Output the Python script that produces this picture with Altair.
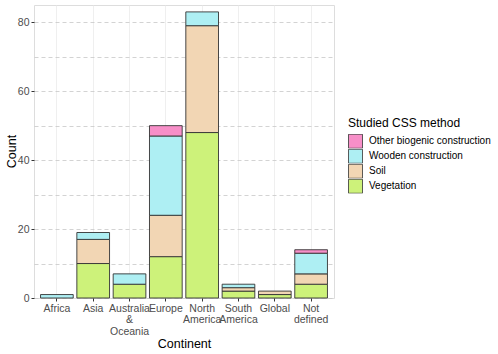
import altair as alt
import pandas as pd

continents = ["Africa", "Asia", "Australia\n&\nOceania", "Europe", "North\nAmerica",
              "South\nAmerica", "Global", "Not\ndefined"]
methods = ["Other biogenic construction", "Wooden construction", "Soil", "Vegetation"]
colors = ["#F78FC8", "#AEEFF3", "#F2D6B4", "#CDF27A"]

vegetation = [0, 10, 4, 12, 48, 2, 1, 4]
soil = [0, 7, 0, 12, 31, 1, 1, 3]
wooden = [1, 2, 3, 23, 4, 1, 0, 6]
other = [0, 0, 0, 3, 0, 0, 0, 1]

series = {"Vegetation": vegetation, "Soil": soil, "Wooden construction": wooden,
          "Other biogenic construction": other}
stack_rank = {"Vegetation": 0, "Soil": 1, "Wooden construction": 2, "Other biogenic construction": 3}

rows = []
for m, vals in series.items():
    for c, v in zip(continents, vals):
        if v > 0:
            rows.append({"Continent": c, "Method": m, "Count": v, "rank": stack_rank[m]})
df = pd.DataFrame(rows)

font = "Liberation Sans"

chart = alt.Chart(df).mark_bar(stroke="#333333", strokeWidth=0.9).encode(
    x=alt.X("Continent:N", sort=continents,
            scale=alt.Scale(paddingInner=0.1, paddingOuter=0.18),
            axis=alt.Axis(title="Continent", labelAngle=0, labelExpr="split(datum.label, '\\n')",
                          labelLineHeight=11.5, labelFontSize=10.5, labelColor="#4d4d4d",
                          labelPadding=2, tickSize=3, tickColor="#333333", domain=False,
                          grid=True, gridColor="#ebebeb", gridWidth=0.8,
                          titleFontSize=12.5, titleFontWeight="normal", titleColor="#000000",
                          titlePadding=1)),
    y=alt.Y("Count:Q", stack="zero",
            scale=alt.Scale(domain=[0, 85], nice=False, zero=True),
            axis=alt.Axis(title="Count", values=list(range(0, 81, 10)),
                          labelExpr="datum.value % 20 == 0 ? datum.label : ''",
                          labelFontSize=10.5, labelColor="#4d4d4d", labelPadding=2,
                          tickSize=3, tickColor="#333333",
                          tickOpacity={"condition": {"test": "datum.value % 20 != 0", "value": 0}, "value": 1},
                          domain=False, grid=True, gridColor="#c8c8c8", gridDash=[4, 3], gridWidth=0.8,
                          titleFontSize=12.5, titleFontWeight="normal", titleColor="#000000",
                          titleX=-16, titleY=146)),
    color=alt.Color("Method:N", scale=alt.Scale(domain=methods, range=colors),
                    legend=alt.Legend(title="Studied CSS method", orient="none",
                                      legendX=314, legendY=113,
                                      symbolType="square", symbolSize=196,
                                      symbolStrokeColor="#333333", symbolStrokeWidth=0.8,
                                      labelFontSize=10, titleFontSize=12,
                                      titleFontWeight="normal", titleColor="#000000",
                                      labelColor="#000000", rowPadding=0, titlePadding=4,
                                      labelOffset=6, clipHeight=14.5)),
    order=alt.Order("rank:Q", sort="ascending"),
).properties(
    width=300, height=293,
    padding={"left": 34, "top": 5, "right": 164, "bottom": 56},
    autosize=alt.AutoSizeParams(type="none"),
).configure_view(
    stroke="#888888", strokeWidth=1
).configure(
    font=font, background="white"
)

chart.save("out.html", embed_options={"renderer": "svg", "actions": False})
